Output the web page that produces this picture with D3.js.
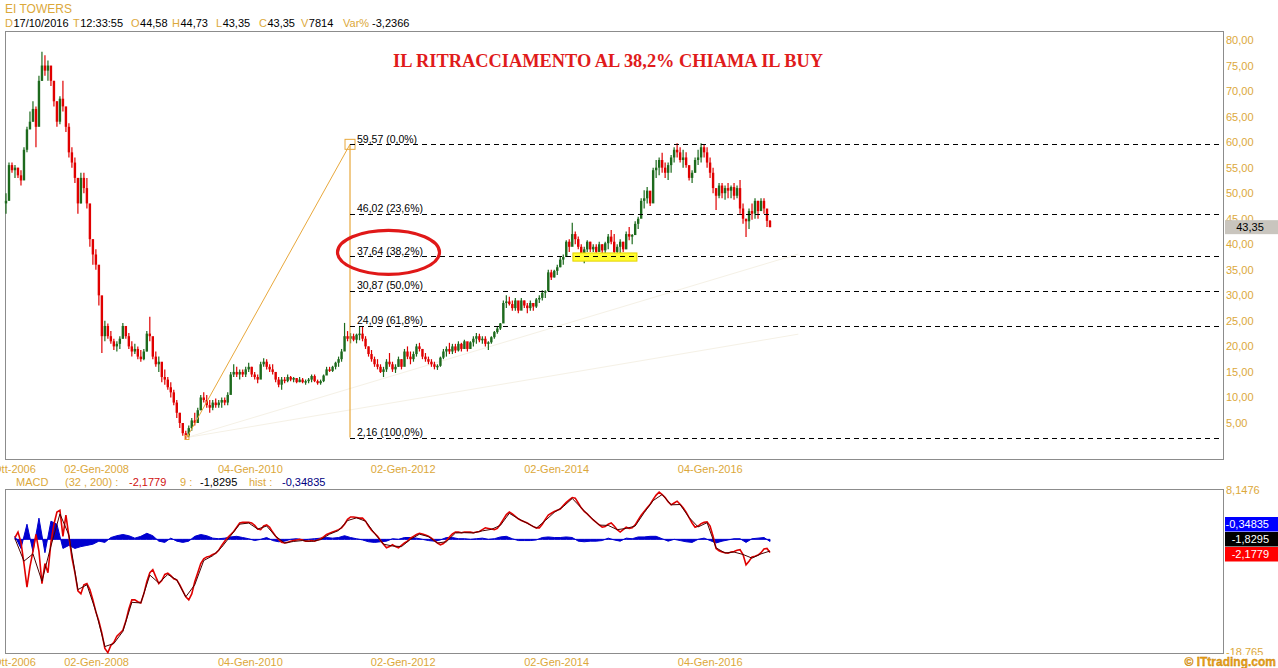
<!DOCTYPE html>
<html><head><meta charset="utf-8">
<script src="https://cdn.jsdelivr.net/npm/d3@7"></script>
<style>
body{margin:0;background:#fff}
svg{display:block}
</style>
</head><body>
<svg id="c" width="1278" height="668" font-family="'Liberation Sans',Arial,sans-serif"></svg>
<script>
// ---------------- DATA ----------------
const startDate = new Date(2006, 9, 30);
const endDate = new Date(2016, 9, 17);

const barLow = [46,52,54,53,53,51.5,54,58,62.5,64, 59,66,72,73,72,71,67,63,63.5,66, 62,57,55,52,46,48,50,47,39.5,36,
35,28,18.7,21,21.5,20.5,19.3,19,19.5,21.5, 21.5,19.5,18,18.5,17.5,17,17.3,19,21,17.5, 16,15,13,12.5,11.5,10,8.5,6,4,2.5,
1.7,2.2,3.5,4.5,5.5,7.5,9,8,7,7.5, 8,8,8,8.5,8.5,11,14,14,13.5,14, 14,15,14,13.5,12.8,14,16,15.5,15,14.5,
13,12,11.5,12.8,13,13.2,13,12.8,13,12.8, 12.5,12.8,13,13,12.5,12.5,13,14.5,15,15, 15.5,16,17,20,21,20.6,21,20.6,21.2,21,
19.5,18,17,16,15.5,14.8,14,15,16,15, 14.8,16,15.5,17,17.5,16.5,17,18,19,17.5, 17,16.5,16,15.5,15.4,16,17.5,18,18.5,18.5,
18.7,19,19,19.5,19,19.5,20,20.5,20.8,20.5, 20,19.3,20.5,21.5,22.5,23.2,25.5,27.5,28,27, 27,26.5,27.5,27.5,26.5,27,27,27.5,28.5,29,
29.5,31,33,33.5,34,35.5,36,38,38.5,41, 40,39,37.5,36.3,38.5,38.5,38.5,38,38.5,38.3, 38.3,39,40,38,37.5,38,38.5,40,40.8,40,
42,43,46,47,48,47.5,52,53,53.5,54, 53,52.6,54,56,57,56,55,55,52.5,52, 54,55.5,56,57,55,53,50,46.7,49,49,
48.7,49,49,48.7,49,46,44,41.4,43,44.8, 45,45,46.7,46,43.4,43.35];

const barHigh = [50,56,56,55.5,55,54.5,59,63,66,68, 67,73,77.7,77,76,74.5,72,68,69,72, 66,63.7,59,57,52,54,54,53,46,41,
39,35,26.5,25,24.5,23,21.5,21,22,24.6, 24,22.6,21,20.5,20,19.3,19.5,23,25.8,21.5, 19,18,16,15.5,14,13,11.5,9.5,7,5,
3.5,4.5,6,7,8,10.5,11,10.5,9.5,9.5, 9.8,9.5,10,10,11,15,16.5,16,15.5,15.5, 16,16.8,16,15,14.5,17,17.7,17.5,16.5,16.5,
15,14,14,14,14.5,14.2,14,13.8,14,13.8, 13.5,13.8,14.5,14.5,13.5,13.5,14.5,16,16,16.2, 17,18,19.5,24.6,23,22.6,22.5,22.5,23.8,24,
22,20,19.3,18,17.5,16.5,16,17.5,18.7,17, 16.5,18,17.5,19.5,20,19,19,20.5,20.7,19.5, 18.7,18,17.5,17,16.5,18,19.5,20,20.7,20.5,
20.5,21,20.7,21.3,20.5,21,22,22.6,22.5,22, 22,21,22,23,24,24.6,29,30,29.7,29, 29.5,28.5,29.5,29,28.5,29,28.5,29.5,30,31,
31,35,35,35,36,37.5,38,40.8,41,44.2, 42.5,41.5,40,39.5,40.8,40.5,40,40,40.5,40, 40.5,42,42.8,42,40,41,40.5,42.5,43.4,42,
44.5,45.4,49,50.6,51.2,50,55,56.5,57,57.9, 56,56,57.5,59,59.8,59,58.5,58,55,54.5, 57,58.5,59.8,59.5,59,57,55,50.5,52,52,
51.5,52,51.5,52,51.5,52.6,48,45,47,48, 49,48.5,49,49,46,44.73];

const barClose = [48.5,55.5,54.5,55,53.5,52.5,58.5,62.5,64,66.5, 63,72,75,74,75,72,68,64,68.5,67, 63,58,56,53,48,53,51,48,41,38,
36,30,22,24,22,21,20,20.5,21.5,24, 22,20,19,19.5,18,17.5,19,22.5,22,18, 16.5,17,14,13.5,12,11,9,7,5,3,
2.5,4,5.5,5,7.5,10,9.5,8.5,8,9, 8.5,9,9.5,9,10.5,14.5,15,14.5,15,14.5, 15.5,16,14.5,14,13.5,16.5,17,16,15.5,15,
13.5,12.5,13.5,13.2,14,13.5,13.8,13,13.5,13, 13.2,13.5,14.2,13.2,12.8,13.2,14.3,15.5,15.2,16, 16.8,17.5,19,22,21.5,22,21.3,22.3,22.5,21.5,
20,18.5,17.5,16.5,16,15,15.5,17,16.5,15.5, 16,17.5,16,19,18,17.5,18.5,20,19.5,18, 17.5,17,16.5,16,16.2,17.8,19,19.5,19,20,
19.2,20.5,19.5,21,19.5,20.8,21.5,22,21.2,21.5, 20.5,20.8,21.8,22.8,23.5,24.5,28.5,28.8,28.3,27.5, 29,27,29,28,27.5,28.5,27.8,29.2,29.5,30.5,
30.8,34.5,33.5,34.8,35.5,37,37.5,40.5,39.5,42, 41,39.5,38,39,40.5,39,39.5,38.5,40,38.8, 40.2,41.5,40.5,38.5,39.5,40.5,39,42,41.5,41.8,
44,45,48.5,49,50.5,48,54.5,55,56.5,55, 54,55.5,57,58.5,58,56.5,57,55.5,53,54, 56.5,57,59,58,56,54,51,49.5,51.5,50,
51,50.5,51.2,49.5,51,47,45,44.5,46.5,46, 48.5,46.5,48.5,47,44.58,43.35];

const macdFirstBar = 3;
const macdValues = [0.3,1.2,-0.5,-4,-7.9,-4.5,-2,0.8,-2,-7.3,
-4,-5.5,-0.5,2.5,4.5,4.8,0.5,4,0.5,-3,
-5.5,-8.5,-9,-7.5,-7.3,-8.3,-10,-12,-13.5,-15.5,
-18,-18.7,-17.5,-17,-16,-15.5,-15,-13.5,-11.5,-10,
-10,-10.3,-10.5,-9,-7,-5.5,-5,-6.2,-7.3,-6.8,
-5.8,-5.6,-6,-6.5,-6.7,-7.5,-8.5,-9.5,-10,-9,
-7,-5.5,-4,-3.2,-2.9,-2.8,-2.5,-2.3,-1.8,-1,
-0.3,0.3,0.8,1.3,2,2.7,2.8,2.8,2.8,2.7,
2.3,1.7,1.6,2.2,2.4,2,1.2,0.5,0,-0.5,
-0.6,-0.5,-0.3,-0.2,-0.1,0,-0.1,-0.3,-0.3,-0.2,
-0.3,-0.1,0.1,0.4,0.8,1.0,1.2,1.4,1.6,1.9,
2.5,3.3,3.7,3.7,3.6,3.5,3.5,3,2.2,1.5,
1.0,0.5,-0.2,-0.8,-1.4,-1.2,-0.9,-1.2,-1.4,-1.0,
-0.6,-0.3,0.2,0.5,0.8,1.0,0.9,0.7,0.5,0.2,
-0.2,-0.6,-0.9,-0.7,-0.2,0.4,0.9,1.2,1.2,1.1,
1.2,1.2,1.2,1.1,1.2,1.3,1.6,1.9,1.8,1.7,
1.6,1.8,2.5,3.3,4.1,4.5,4.2,3.8,3.4,3.1,
2.9,2.7,2.4,2.1,1.9,1.9,2.5,3.3,4.0,4.3,
4.6,4.8,5.0,5.6,6.1,6.5,6.9,6.8,6.0,5.2,
4.6,4.2,3.7,3.2,2.8,2.4,2.0,2.1,2.5,2.7,
2.2,1.6,1.2,1.6,2.0,1.8,1.9,2.4,3.2,4.0,
4.6,5.2,5.8,6.6,7.3,7.8,7.4,6.9,6.2,5.7,
6.0,6.3,5.8,5.2,4.5,3.6,2.7,2.0,2.2,2.6,
2.8,2.9,2.2,0.5,-1.5,-1.9,-2.1,-2.2,-2.3,-2.1,
-2.0,-1.8,-1.7,-2.5,-4.2,-3.6,-2.9,-2.8,-2.6,-2.2,
-1.6,-1.5,-2.1779];

const signalFirstBar = 3, signalStep = 3;
const signalValues = [0.2,-3.5,-2.3,-6.8,-1,4.3,0.8,-8.2,-7.4,-11.8,
-17.6,-17.1,-15.1,-10.3,-10.4,-5.8,-7.1,-5.7,-6.6,-9.4,
-7.4,-3.4,-2.6,-1.2,0.7,2.6,2.8,1.8,2.3,0.6,
-0.5,-0.25,-0.1,-0.25,0.05,0.95,1.55,3.2,3.65,3.1,
1.1,-0.7,-1.0,-1.1,0.1,0.95,0.55,-0.5,-0.3,1.15,
1.2,1.15,1.5,1.75,2.4,4.4,3.5,2.75,1.95,3.2,
4.55,5.5,6.85,5.3,3.8,2.45,2.4,1.7,1.9,2.3,
4.5,6.5,7.5,5.8,5.85,3.7,2.15,2.85,-1.3,-2.15,
-2.0,-2.4,-3.0,-2.3,-1.8295];

const histFirstBar = 3, histStep = 2;
const histValues = [0.5,-1.5,2.5,-2,3.5,-2.2,3,2.5,-1.5,-1,
-1.5,-1.2,-1.0,-0.8,-0.3,-0.5,0.3,0.6,0.8,0.6,
0.2,0.5,1.0,0.6,-0.3,-0.5,0.2,-0.3,-0.5,-0.3,
0.5,0.8,0.6,0.2,0.1,0.2,0.4,0.5,0.3,0.1,
-0.2,0.0,0.3,-0.2,-0.4,-0.3,0.0,0.1,-0.1,0.0,
0.1,0.2,0.3,0.2,0.3,0.6,0.3,0.1,-0.1,-0.4,
-0.5,-0.4,-0.3,0.1,0.0,0.3,0.3,0.2,0.0,-0.2,
-0.3,-0.1,0.3,0.3,0.1,0.1,0.0,0.1,0.2,0.0,
0.1,0.4,0.5,0.1,-0.2,-0.2,-0.2,-0.1,0.3,0.4,
0.3,0.3,0.4,0.3,-0.3,-0.4,-0.3,-0.3,-0.2,0.2,
-0.1,-0.3,0.2,0.1,0.4,0.4,0.5,0.5,0.1,-0.3,
0.0,-0.2,-0.4,-0.5,0.0,0.2,-0.2,-0.6,-0.3,-0.1,
0.1,0.1,-0.5,0.1,0.2,0.3,-0.34835];

const priceTicks = [5,10,15,20,25,30,35,40,45,50,55,60,65,70,75,80];
const priceDomain = [5, 80];
const macdDomain = [-18.765, 8.1476];
const xTickDates = [new Date(2006,9,30), new Date(2008,0,2), new Date(2010,0,4), new Date(2012,0,2), new Date(2014,0,2), new Date(2016,0,4)];
const xTickLabels = ["30-Ott-2006","02-Gen-2008","04-Gen-2010","02-Gen-2012","02-Gen-2014","04-Gen-2016"];

const fibLevels = [59.57, 46.02, 37.64, 30.87, 24.09, 2.16];
const fibPercents = ["0,0%","23,6%","38,2%","50,0%","61,8%","100,0%"];
const fibStartDate = new Date(2009,2,10), fibStartPrice = 2.16;
const fibEndDate = new Date(2011,3,26), fibEndPrice = 59.57;
const fanEndDate = new Date(2017,2,1);
const fanEndPrices = [38.1, 22.4];
const zoneFrom = new Date(2014,2,23), zoneTo = new Date(2015,0,22), zoneLow = 36.7, zoneHigh = 38.3;
const highlightLevel = 37.64;

const headerName = "EI TOWERS";
const headerFields = [["D","17/10/2016"],["T","12:33:55"],["O","44,58"],["H","44,73"],["L","43,35"],["C","43,35"],["V","7814"],["Var%","-3,2366"]];
const lastClose = 43.35;
const lastMacd = -2.1779, lastSignal = -1.8295, lastHist = -0.34835;
const titleText = "IL RITRACCIAMENTO AL 38,2% CHIAMA IL BUY";

// ---------------- LAYOUT ----------------
const GOLD = "#dca83a", RED = "#e00000", GREEN = "#1d6a1d", ORANGE = "#e8a83c";
const svg = d3.select("#c");
const P = {l:5, r:1223, t:32, b:459};
const M = {t:490, b:653};
const fmt = (v, d) => v.toFixed(d).replace(".", ",");

const x = d3.scaleTime().domain([startDate, endDate]).range([6, 770]);
const N = barClose.length;
const barDate = k => new Date(+startDate + k * (endDate - startDate) / (N - 1));
const bx = k => x(barDate(k));
const y = d3.scaleLinear().domain(priceDomain).range([423, 40]);
const ym = d3.scaleLinear().domain(macdDomain).range([M.b, M.t]);

// header
svg.append("text").attr("x",5).attr("y",13).attr("font-size",12).attr("fill",GOLD).text(headerName);
const hdrLabX = [5,73,131,172,216,259,301,343];
headerFields.forEach((f,i)=>{
  const lab = svg.append("text").attr("x",hdrLabX[i]).attr("y",27).attr("font-size",11).attr("fill",GOLD).text(f[0]);
  const w = lab.node().getComputedTextLength();
  svg.append("text").attr("x",hdrLabX[i]+w+(i===7?3:0.5)).attr("y",27).attr("font-size",11).attr("fill","#000").text(f[1]);
});

// panels
svg.append("rect").attr("x",P.l+0.5).attr("y",P.t-0.5).attr("width",P.r-P.l).attr("height",P.b-P.t+1)
  .attr("fill","none").attr("stroke","#8c8c8c");
svg.append("rect").attr("x",P.l+0.5).attr("y",M.t-0.5).attr("width",P.r-P.l).attr("height",M.b-M.t+1)
  .attr("fill","none").attr("stroke","#8c8c8c");

// faint fan lines
fanEndPrices.forEach(p=>{
  svg.append("line").attr("x1",x(fibStartDate)).attr("y1",y(fibStartPrice))
    .attr("x2",x(fanEndDate)).attr("y2",y(p)).attr("stroke","#f5f1e6").attr("stroke-width",1);
});

// price bars (wick + body)
const bars = svg.append("g");
barClose.forEach((c,k)=>{
  const o = k>0 ? barClose[k-1] : (barLow[k]+barHigh[k])/2;
  const col = c>=o ? GREEN : RED;
  bars.append("line").attr("x1",bx(k)).attr("x2",bx(k))
    .attr("y1",y(barLow[k])).attr("y2",y(barHigh[k])).attr("stroke",col).attr("stroke-width",1.2);
  const top = y(Math.max(o,c)), bot = y(Math.min(o,c));
  bars.append("rect").attr("x",bx(k)-1.2).attr("width",2.4)
    .attr("y",top).attr("height",Math.max(1.5,bot-top)).attr("fill",col);
});

// yellow support zone
svg.append("rect").attr("x",x(zoneFrom)).attr("y",y(zoneHigh)).attr("width",x(zoneTo)-x(zoneFrom))
  .attr("height",y(zoneLow)-y(zoneHigh)).attr("fill","#ffff30").attr("stroke","#e6d200").attr("stroke-width",1);

// fibonacci
const fx0 = x(fibStartDate), fx1 = x(fibEndDate);
svg.append("line").attr("x1",fx0).attr("y1",y(fibStartPrice)).attr("x2",fx1).attr("y2",y(fibEndPrice))
  .attr("stroke",ORANGE).attr("stroke-width",1);
svg.append("line").attr("x1",fx1).attr("y1",y(fibEndPrice)).attr("x2",fx1).attr("y2",y(fibStartPrice))
  .attr("stroke",ORANGE).attr("stroke-width",1.2);
svg.append("rect").attr("x",fx1-5).attr("y",y(fibEndPrice)-5).attr("width",10).attr("height",10)
  .attr("fill","none").attr("stroke",ORANGE);
svg.append("rect").attr("x",fx0-2).attr("y",y(fibStartPrice)-2).attr("width",4).attr("height",4)
  .attr("fill","none").attr("stroke",ORANGE);
fibLevels.forEach((lv,i)=>{
  svg.append("line").attr("x1",fx1).attr("x2",P.r).attr("y1",Math.round(y(lv))+0.5).attr("y2",Math.round(y(lv))+0.5)
    .attr("stroke","#000").attr("stroke-dasharray","5,4");
  svg.append("text").attr("x",fx1+7).attr("y",y(lv)-1.5).attr("font-size",10.5).attr("fill","#000")
    .text(fmt(lv,2)+" ("+fibPercents[i]+")");
});

// red ellipse highlight
svg.append("ellipse").attr("cx",fx1+38.5).attr("cy",y(highlightLevel)-4).attr("rx",51).attr("ry",22)
  .attr("fill","none").attr("stroke","#e01818").attr("stroke-width",3.2);

// title
svg.append("text").attr("x",393).attr("y",67)
  .style("font-family","'Liberation Serif','Times New Roman',serif")
  .attr("font-weight","bold").attr("font-size",18).attr("fill","#e01b1b")
  .attr("textLength",430).attr("lengthAdjust","spacingAndGlyphs").text(titleText);

// y axis (price)
const yAxis = svg.append("g").attr("transform",`translate(${P.r},0)`)
  .call(d3.axisRight(y).tickValues(priceTicks).tickFormat(d=>fmt(d,2)).tickSize(0).tickPadding(3));
yAxis.select(".domain").remove();
yAxis.selectAll("text").attr("fill",GOLD).attr("font-size",11).attr("font-family",null);
yAxis.attr("font-family",null);

// last price box
svg.append("rect").attr("x",1225).attr("y",y(lastClose)-7).attr("width",53).attr("height",14).attr("fill","#c9c5be");
svg.append("text").attr("x",1250).attr("y",y(lastClose)+4).attr("text-anchor","middle").attr("font-size",11).attr("fill","#000").text(fmt(lastClose,2));

// x axes
function xAxisAt(yy){
  const g = svg.append("g").attr("transform",`translate(0,${yy})`)
    .call(d3.axisBottom(x).tickValues(xTickDates).tickFormat((d,i)=>xTickLabels[i]).tickSize(0).tickPadding(0));
  g.select(".domain").remove();
  g.attr("font-family",null);
  g.selectAll("text").attr("y",0).attr("dy",null).attr("fill",GOLD).attr("font-size",11);
}
xAxisAt(473);
xAxisAt(666);

// MACD header
const mh = [["MACD",16,GOLD],["(32 , 200) :",65,GOLD],[fmt(lastMacd,4),129,"#d01010"],["9 :",180,GOLD],
  [fmt(lastSignal,4),200,"#000"],["hist :",249,GOLD],[fmt(lastHist,5),282,"#000080"]];
mh.forEach(t=>svg.append("text").attr("x",t[1]).attr("y",486).attr("font-size",11).attr("fill",t[2]).text(t[0]));

// MACD histogram
const histPts = histValues.map((v,i)=>({k: histFirstBar + i*histStep, v}));
svg.append("path").datum(histPts)
  .attr("d", d3.area().x(d=>bx(d.k)).y0(ym(0)).y1(d=>ym(d.v)))
  .attr("fill","#0000d0").attr("stroke","#0000d0").attr("stroke-width",1);

// MACD line and signal
const macdPts = macdValues.map((v,i)=>({k: macdFirstBar + i, v}));
svg.append("path").datum(macdPts).attr("d", d3.line().x(d=>bx(d.k)).y(d=>ym(d.v)))
  .attr("fill","none").attr("stroke","#e00000").attr("stroke-width",1.6);
const sigPts = signalValues.map((v,i)=>({k: signalFirstBar + i*signalStep, v}));
svg.append("path").datum(sigPts).attr("d", d3.line().x(d=>bx(d.k)).y(d=>ym(d.v)+0.6))
  .attr("fill","none").attr("stroke","#4a0000").attr("stroke-width",1);

// MACD scale labels
svg.append("text").attr("x",1226).attr("y",M.t+4).attr("font-size",11).attr("fill",GOLD).text(fmt(macdDomain[1],4));
svg.append("text").attr("x",1226).attr("y",M.b+3).attr("font-size",11).attr("fill",GOLD).text(fmt(macdDomain[0],3));

// value boxes
const boxes = [[fmt(lastHist,5),"#0000ff",517],[fmt(lastSignal,4),"#000",532],[fmt(lastMacd,4),"#ff0000",547]];
boxes.forEach(b=>{
  svg.append("rect").attr("x",1225).attr("y",b[2]).attr("width",53).attr("height",14.5).attr("fill",b[1]);
  svg.append("text").attr("x",1269).attr("y",b[2]+11).attr("text-anchor","end").attr("font-size",11).attr("fill","#fff").text(b[0]);
});

// logo
svg.append("rect").attr("x",1184).attr("y",655).attr("width",94).attr("height",13).attr("fill","#fff");
svg.append("text").attr("x",1276).attr("y",666).attr("text-anchor","end").attr("font-size",12).attr("font-weight","bold")
  .attr("fill","#eaa21a").attr("stroke","#c07a00").attr("stroke-width",0.3).text("\u00A9 ITtrading.com");
</script>
</body></html>
